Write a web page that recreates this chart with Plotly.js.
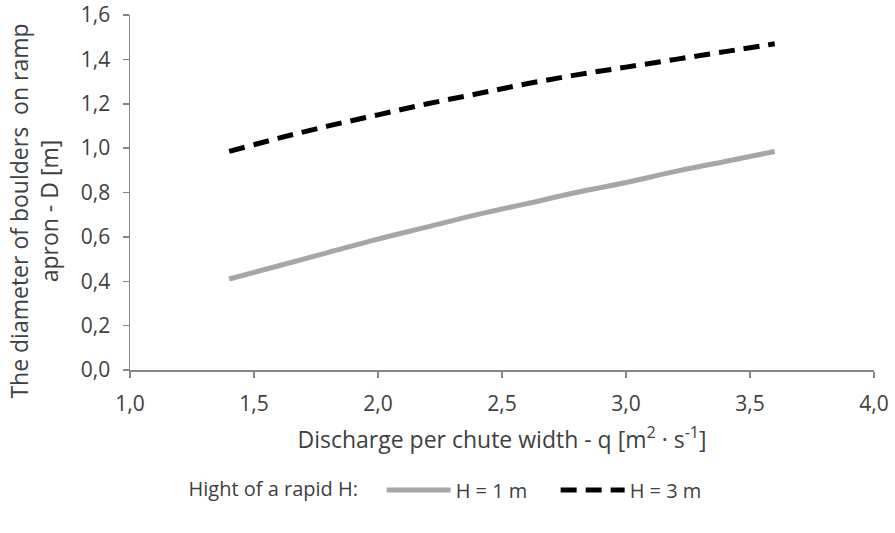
<!DOCTYPE html>
<html>
<head>
<meta charset="utf-8">
<script src="https://cdn.plot.ly/plotly-3.0.1.min.js"></script>
<style>html,body{margin:0;padding:0;background:#fff;}#chart{width:895px;height:533px;}</style>
</head>
<body>
<div id="chart"></div>
<script>
const q = [1.4, 1.6, 1.8, 2.0, 2.2, 2.4, 2.6, 2.8, 3.0, 3.2, 3.4, 3.6];
const dH1 = [0.41, 0.47, 0.53, 0.59, 0.645, 0.70, 0.75, 0.80, 0.845, 0.895, 0.94, 0.985];
const dH3 = [0.985, 1.045, 1.10, 1.15, 1.20, 1.245, 1.29, 1.33, 1.365, 1.40, 1.435, 1.47];
const seriesNames = ["H = 1 m", "H = 3 m"];
const xTicks = [1.0, 1.5, 2.0, 2.5, 3.0, 3.5, 4.0];
const yTicks = [0.0, 0.2, 0.4, 0.6, 0.8, 1.0, 1.2, 1.4, 1.6];
const xTitle = "Discharge per chute width - q [m<sup>2</sup> · s<sup>-1</sup>]";
const yTitle = "The diameter of boulders  on ramp<br>apron - D [m]";
const legendTitle = "Hight of a rapid H:";

const FONT = "Open Sans, Noto Sans, sans-serif";
const TXT = "#404040";
const traces = [
  {x: q, y: dH1, name: seriesNames[0], mode: "lines", type: "scatter",
   line: {color: "#a6a6a6", width: 5, shape: "spline"}},
  {x: q, y: dH3, name: seriesNames[1], mode: "lines", type: "scatter",
   line: {color: "#000000", width: 5, dash: "16px,9px", shape: "spline"}}
];
const axisCommon = {
  showgrid: false, zeroline: false, showline: true, linecolor: "#868686", linewidth: 1.5,
  ticks: "outside", ticklen: 6, tickcolor: "#868686", tickwidth: 1.5,
  tickfont: {family: FONT, size: 21, color: TXT}, tickformat: ".1f"
};
const layout = {
  width: 895, height: 533,
  margin: {l: 130, r: 21, t: 15, b: 163},
  paper_bgcolor: "#fff", plot_bgcolor: "#fff",
  separators: ", ",
  font: {family: FONT, color: TXT},
  xaxis: Object.assign({}, axisCommon, {
    range: [1.0, 4.0], tickvals: xTicks, ticklabelstandoff: 8,
    title: {text: xTitle, font: {family: FONT, size: 23, color: TXT}, standoff: 16}
  }),
  yaxis: Object.assign({}, axisCommon, {
    range: [0, 1.6], tickvals: yTicks, ticklabelstandoff: 8
  }),
  annotations: [{
    text: yTitle, xref: "paper", yref: "paper", x: -0.1295, y: 0.448,
    xanchor: "center", yanchor: "middle", textangle: -90, showarrow: false,
    font: {family: FONT, size: 23, color: TXT}
  }],
  showlegend: true,
  legend: {
    orientation: "h", x: 0.076, xanchor: "left", y: -0.338, yanchor: "middle",
    font: {family: FONT, size: 20, color: TXT},
    title: {text: legendTitle + "   ", side: "left", font: {family: FONT, size: 20, color: TXT}},
    itemwidth: 64, entrywidth: 95, tracegroupgap: 0
  }
};
Plotly.newPlot("chart", traces, layout, {displayModeBar: false, staticPlot: true});
</script>
</body>
</html>
